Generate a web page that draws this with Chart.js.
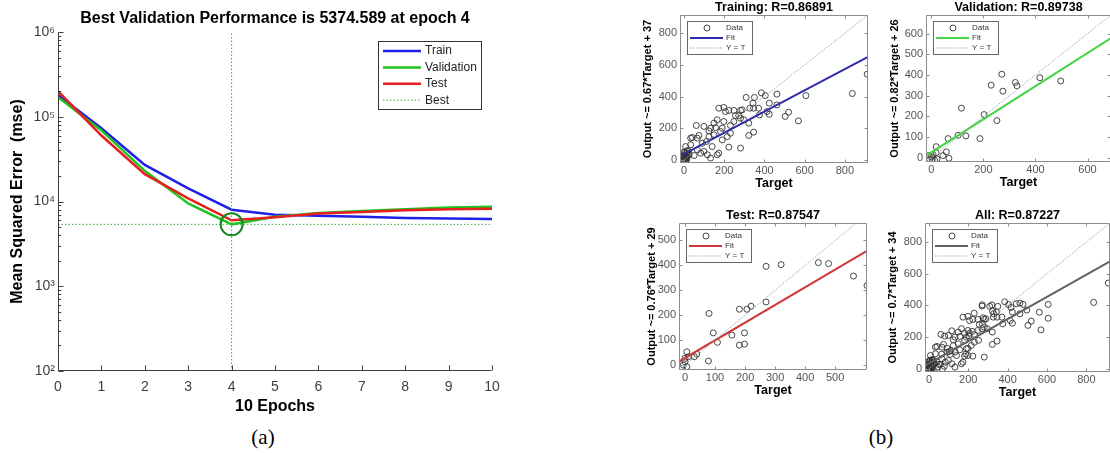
<!DOCTYPE html>
<html lang="en">
<head>
<meta charset="UTF-8">
<title>Performance and regression plots</title>
<script src="https://cdn.jsdelivr.net/npm/chart.js"></script>
<style>
  html, body { margin: 0; padding: 0; background: #fff; overflow: hidden; }
  body { position: relative; width: 1110px; height: 453px; }
  .plot { position: absolute; }
  .cap { position: absolute; transform: translate(-50%, -50%); font-family: "Liberation Serif", "Times New Roman", serif; font-size: 21px; color: #000; }
</style>
</head>
<body>
<div class="plot" style="left:0;top:0;width:520px;height:420px"><canvas id="perfChart"></canvas></div>
<div class="plot" style="left:636px;top:0;width:238px;height:191px"><canvas id="trainChart"></canvas></div>
<div class="plot" style="left:882px;top:0;width:235px;height:190px"><canvas id="valChart"></canvas></div>
<div class="plot" style="left:635px;top:208px;width:238px;height:190px"><canvas id="testChart"></canvas></div>
<div class="plot" style="left:881px;top:208px;width:235px;height:192px"><canvas id="allChart"></canvas></div>
<div class="cap" style="left:263px;top:437px">(a)</div>
<div class="cap" style="left:881px;top:437px">(b)</div>

<script>
// ---- (a) training performance ----
const epochs   = [0, 1, 2, 3, 4, 5, 6, 7, 8, 9, 10];
const trainMse = [180000, 73000, 27000, 14300, 8000, 7000, 6800, 6600, 6400, 6300, 6200];
const valMse   = [170000, 69000, 23000, 9500, 5374.589, 6600, 7300, 7750, 8100, 8500, 8700];
const testMse  = [200000, 60000, 21000, 10900, 6000, 6500, 7200, 7500, 7900, 8100, 8200];
const bestEpoch = 4;
const bestMse = 5374.589;
const mseTicks = [1e2, 1e3, 1e4, 1e5, 1e6];

// ---- (b) regression: [target, output] pairs ----
const trainPts = [
  [911, 541], [837, 419], [606, 406], [520, 301], [503, 274], [569, 246], [462, 415], [404, 406],
  [385, 423], [424, 358], [462, 347], [424, 288], [375, 284], [350, 394], [343, 358], [346, 326],
  [327, 326], [309, 394], [289, 316], [281, 312], [272, 280], [248, 312], [223, 312], [198, 331],
  [173, 326], [206, 305], [165, 253], [198, 242], [231, 217], [149, 232], [322, 232], [346, 175],
  [322, 154], [281, 74], [223, 80], [231, 168], [190, 200], [157, 204], [132, 200], [99, 211],
  [61, 217], [124, 147], [74, 154], [41, 141], [33, 137], [173, 42], [165, 32], [140, 84],
  [116, 32], [99, 53], [66, 63], [33, 95], [17, 53], [8, 84], [91, 105], [112, 116],
  [215, 147], [190, 126], [281, 263], [297, 253], [248, 242], [256, 280], [371, 326], [413, 305],
  [66, 137], [124, 183], [149, 158], [182, 179], [50, 27], [83, 42], [132, 11], [25, 42],
  [0, 0], [3, 5], [5, 15], [8, 25], [2, 30], [10, 10], [12, 40], [-5, 10], [15, 20], [20, 35],
  [6, -8], [-8, -5], [1, 50], [4, 45], [18, 60], [25, 30], [10, 0], [-3, 22], [7, 12], [14, 3]
];
const valPts = [
  [497, 371], [417, 387], [323, 364], [329, 348], [275, 322], [271, 404], [230, 351], [203, 209],
  [252, 180], [116, 240], [103, 109], [133, 106], [65, 93], [187, 93], [19, 54], [58, 29],
  [45, 11], [68, -2], [19, 25], [0, 5], [-6, -8], [6, 16], [13, -11], [-9, 11], [4, -5], [22, -5]
];
const testPts = [
  [606, 319], [561, 357], [478, 407], [444, 411], [320, 403], [270, 396], [270, 253], [220, 236],
  [206, 224], [181, 224], [80, 207], [94, 129], [156, 120], [198, 129], [108, 91], [181, 80],
  [198, 84], [78, 16], [31, 33], [39, 44], [6, 53], [0, 27], [-6, 0], [6, -7], [0, 13], [11, 33]
];
const allPts = trainPts.concat(valPts, testPts);

// fit line end points
const trainFit = [[-20, 24], [915, 650]];
const valFit   = [[-20, 10], [690, 578]];
const testFit  = [[-20, 14], [606, 458]];
const allFit   = [[-20, 20], [920, 678]];

// axis limits (target, output) and tick values
const trainLim = [[-20, 915], [-20, 915]];
const valLim   = [[-20, 690], [-20, 690]];
const testLim  = [[-20, 606], [-20, 570]];
const allLim   = [[-20, 920], [-20, 920]];
const trainTicks = [0, 200, 400, 600, 800];
const valXTicks  = [0, 200, 400, 600];
const valYTicks  = [0, 100, 200, 300, 400, 500, 600];
const testTicks  = [0, 100, 200, 300, 400, 500];
const allTicks   = [0, 200, 400, 600, 800];

Chart.defaults.font.family = '"Liberation Sans", Arial, sans-serif';

const supDigits = { 2: '\u00b2', 3: '\u00b3', 4: '\u2074', 5: '\u2075', 6: '\u2076' };

function tickLen(scale, v, len) {
  if (scale.type !== 'logarithmic') return len;
  const e = Math.floor(Math.log10(v) + 1e-9);
  const m = v / Math.pow(10, e);
  if (Math.abs(m - Math.round(m)) > 1e-6) return 0;
  return Math.abs(m - 1) < 1e-6 ? len : len * 0.55;
}

// MATLAB-style axes: frame plus inward tick marks
const matlabAxes = {
  id: 'matlabAxes',
  afterDatasetsDraw(chart, args, o) {
    const { ctx, chartArea: a } = chart;
    const sx = chart.scales.x, sy = chart.scales.y;
    const L = Math.round(a.left) + 0.5, R = Math.round(a.right) - 0.5;
    const T = Math.round(a.top) + 0.5, B = Math.round(a.bottom) - 0.5;
    ctx.save();
    ctx.strokeStyle = o.color;
    ctx.lineWidth = 1;
    ctx.setLineDash([]);
    ctx.beginPath();
    if (o.box) {
      ctx.rect(L, T, R - L, B - T);
    } else {
      ctx.moveTo(L, T); ctx.lineTo(L, B); ctx.lineTo(R, B);
    }
    sx.ticks.forEach((t, i) => {
      const p = Math.round(sx.getPixelForTick(i)) + 0.5;
      ctx.moveTo(p, B); ctx.lineTo(p, B - o.len);
      if (o.box) { ctx.moveTo(p, T); ctx.lineTo(p, T + o.len); }
    });
    sy.ticks.forEach((t, i) => {
      const len = tickLen(sy, t.value, o.len);
      if (!len) return;
      const p = Math.round(sy.getPixelForTick(i)) + 0.5;
      ctx.moveTo(L, p); ctx.lineTo(L + len, p);
      if (o.box) { ctx.moveTo(R, p); ctx.lineTo(R - len, p); }
    });
    ctx.stroke();
    ctx.restore();
  }
};

// boxed legend inside the plot area
const boxLegend = {
  id: 'boxLegend',
  afterDatasetsDraw(chart, args, o) {
    const { ctx, chartArea: a } = chart;
    const left = Math.round(o.side === 'right' ? a.right - o.dx - o.w : a.left + o.dx);
    const top = Math.round(a.top + o.dy);
    ctx.save();
    ctx.fillStyle = '#fff';
    ctx.fillRect(left, top, o.w, o.h);
    ctx.strokeStyle = o.border;
    ctx.lineWidth = 1;
    ctx.strokeRect(left + 0.5, top + 0.5, o.w, o.h);
    ctx.font = o.size + 'px "Liberation Sans", Arial, sans-serif';
    ctx.textBaseline = 'middle';
    let row = 0;
    chart.data.datasets.forEach(ds => {
      if (ds.inLegend === false) return;
      const y = top + o.first + row * o.step;
      if (ds.marker) {
        ctx.setLineDash([]);
        ctx.strokeStyle = ds.pointBorderColor;
        ctx.lineWidth = ds.pointBorderWidth;
        ctx.beginPath();
        ctx.arc(left + o.mx, y, ds.pointRadius, 0, Math.PI * 2);
        ctx.stroke();
      } else {
        ctx.strokeStyle = ds.borderColor;
        ctx.lineWidth = ds.borderWidth;
        ctx.setLineDash(ds.borderDash || []);
        ctx.beginPath();
        ctx.moveTo(left + o.x0, y);
        ctx.lineTo(left + o.x1, y);
        ctx.stroke();
      }
      ctx.fillStyle = o.text;
      ctx.fillText(ds.label, left + o.tx, y);
      row++;
    });
    ctx.restore();
  }
};

const xy = (xs, ys) => xs.map((x, i) => ({ x: x, y: ys[i] }));

// ---- (a) ----
new Chart(document.getElementById('perfChart'), {
  type: 'line',
  data: {
    datasets: [
      { label: 'Train', data: xy(epochs, trainMse), borderColor: '#1f1fe6', borderWidth: 2.5, pointRadius: 0, order: 5 },
      { label: 'Validation', data: xy(epochs, valMse), borderColor: '#1fc41f', borderWidth: 2.5, pointRadius: 0, order: 4 },
      { label: 'Test', data: xy(epochs, testMse), borderColor: '#e61f1f', borderWidth: 2.5, pointRadius: 0, order: 3 },
      { label: 'Best', data: [{ x: epochs[0], y: bestMse }, { x: epochs[epochs.length - 1], y: bestMse }],
        borderColor: '#3aa845', borderWidth: 1, borderDash: [1.5, 2], pointRadius: 0, order: 2 },
      { label: 'Best epoch', inLegend: false, data: [{ x: bestEpoch, y: mseTicks[0] }, { x: bestEpoch, y: mseTicks[mseTicks.length - 1] }],
        borderColor: '#3aa845', borderWidth: 1, borderDash: [1.5, 2], pointRadius: 0, order: 2 },
      { label: 'Best point', inLegend: false, data: [{ x: bestEpoch, y: bestMse }], showLine: false,
        pointRadius: 11, pointBorderWidth: 2, pointBorderColor: '#14861e', pointBackgroundColor: 'rgba(0,0,0,0)', order: 1 }
    ]
  },
  options: {
    responsive: true,
    maintainAspectRatio: false,
    animation: false,
    layout: { padding: { left: 0, right: 28, top: 0, bottom: 0 } },
    plugins: {
      legend: { display: false },
      tooltip: { enabled: false },
      title: {
        display: true, fullSize: false, color: '#000',
        text: 'Best Validation Performance is 5374.589 at epoch 4',
        font: { size: 16, weight: 'bold' },
        padding: { top: 9, bottom: 3.8 }
      },
      matlabAxes: { color: '#3c3c3c', len: 5, box: false },
      boxLegend: { side: 'right', dx: 11, dy: 9, w: 103, h: 68, first: 10, step: 16.4,
                   x0: 5, x1: 43, tx: 47, mx: 20, size: 12, border: '#333', text: '#222' }
    },
    scales: {
      x: {
        type: 'linear', min: epochs[0], max: epochs[epochs.length - 1],
        grid: { display: false, drawTicks: false }, border: { display: false },
        ticks: { stepSize: 1, color: '#404040', font: { size: 14 }, padding: 7.6, maxRotation: 0, autoSkip: false },
        title: { display: true, text: '10 Epochs', color: '#000', font: { size: 16, weight: 'bold' }, padding: { top: 0, bottom: 3.4 } },
        afterFit: s => { s.height = 49; }
      },
      y: {
        type: 'logarithmic', min: mseTicks[0], max: mseTicks[mseTicks.length - 1],
        grid: { display: false, drawTicks: false }, border: { display: false },
        ticks: {
          color: '#404040', font: { size: 14 }, padding: 3, autoSkip: false,
          callback: v => {
            const hit = mseTicks.some(m => Math.abs(m - v) / m < 1e-9);
            return hit ? '10' + supDigits[Math.round(Math.log10(v))] : '';
          }
        },
        title: { display: true, text: 'Mean Squared Error  (mse)', color: '#000', font: { size: 16, weight: 'bold' }, padding: { top: 8.4, bottom: 0 } },
        afterFit: s => { s.width = 58; }
      }
    }
  },
  plugins: [matlabAxes, boxLegend]
});

// ---- (b) ----
function regressionChart(id, title, yTitle, pts, fit, lim, xTicks, yTicks, color, ytPad) {
  const toXY = arr => arr.map(p => ({ x: p[0], y: p[1] }));
  const lo = Math.max(lim[0][0], lim[1][0]), hi = Math.min(lim[0][1], lim[1][1]);
  return new Chart(document.getElementById(id), {
    type: 'scatter',
    data: {
      datasets: [
        { label: 'Data', marker: true, data: toXY(pts), pointStyle: 'circle', pointRadius: 3, pointBorderWidth: 0.9,
          pointBorderColor: '#333', pointBackgroundColor: 'rgba(0,0,0,0)', order: 3 },
        { label: 'Fit', type: 'line', data: toXY(fit), borderColor: color, borderWidth: 2, pointRadius: 0, order: 2 },
        { label: 'Y = T', type: 'line', data: [{ x: lo, y: lo }, { x: hi, y: hi }], borderColor: '#a0a0a0',
          borderWidth: 1, borderDash: [1.5, 1.5], pointRadius: 0, order: 1 }
      ]
    },
    options: {
      responsive: true,
      maintainAspectRatio: false,
      animation: false,
      layout: { padding: { left: 0, right: 6, top: 0, bottom: 0 } },
      plugins: {
        legend: { display: false },
        tooltip: { enabled: false },
        title: { display: true, fullSize: false, text: title, color: '#000', font: { size: 12.5, weight: 'bold' }, padding: { top: 0, bottom: 0 } },
        matlabAxes: { color: '#8c8c8c', len: 3, box: true },
        boxLegend: { side: 'left', dx: 7, dy: 5.5, w: 65, h: 33, first: 7, step: 10,
                     x0: 3, x1: 36, tx: 39, mx: 20, size: 8, border: '#666', text: '#333' }
      },
      scales: {
        x: {
          type: 'linear', min: lim[0][0], max: lim[0][1],
          grid: { display: false, drawTicks: false }, border: { display: false },
          ticks: { color: '#555', font: { size: 11 }, padding: 1, maxRotation: 0, autoSkip: false },
          afterBuildTicks: s => { s.ticks = xTicks.map(v => ({ value: v })); },
          title: { display: true, text: 'Target', color: '#000', font: { size: 12.5, weight: 'bold' }, padding: { top: 0, bottom: 0 } },
          afterFit: s => { s.height = 28; }
        },
        y: {
          type: 'linear', min: lim[1][0], max: lim[1][1],
          grid: { display: false, drawTicks: false }, border: { display: false },
          ticks: { color: '#555', font: { size: 11 }, padding: 3, autoSkip: false },
          afterBuildTicks: s => { s.ticks = yTicks.map(v => ({ value: v })); },
          title: { display: true, text: yTitle, color: '#000', font: { size: 11, weight: 'bold' }, padding: { top: ytPad, bottom: 0 } },
          afterFit: s => { s.width = 44; }
        }
      }
    },
    plugins: [matlabAxes, boxLegend]
  });
}

regressionChart('trainChart', 'Training: R=0.86891', 'Output ~= 0.67*Target + 37', trainPts, trainFit, trainLim, trainTicks, trainTicks, '#2d2dab', 5.4);
regressionChart('valChart', 'Validation: R=0.89738', 'Output ~= 0.82*Target + 26', valPts, valFit, valLim, valXTicks, valYTicks, '#44d444', 6.4);
regressionChart('testChart', 'Test: R=0.87547', 'Output ~= 0.76*Target + 29', testPts, testFit, testLim, testTicks, testTicks, '#d03838', 10.1);
regressionChart('allChart', 'All: R=0.87227', 'Output ~= 0.7*Target + 34', allPts, allFit, allLim, allTicks, allTicks, '#606060', 5.4);
</script>
</body>
</html>
